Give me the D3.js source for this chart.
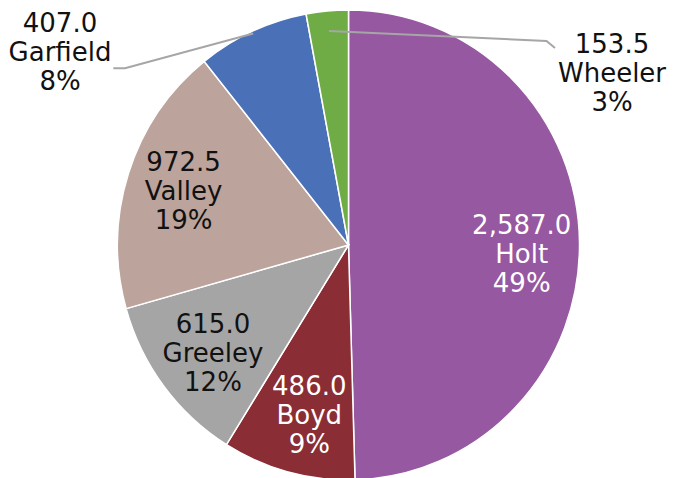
<!DOCTYPE html>
<html><head><meta charset="utf-8">
<script src="https://cdn.jsdelivr.net/npm/d3@7"></script>
<style>html,body{margin:0;padding:0;background:#fff;} svg{display:block;}</style>
</head><body>
<svg id="chart" width="677" height="478"></svg>
<script>
const categories = ["Holt", "Boyd", "Greeley", "Valley", "Garfield", "Wheeler"];
const values = [2587.0, 486.0, 615.0, 972.5, 407.0, 153.5];
const percentLabels = ["49%", "9%", "12%", "19%", "8%", "3%"];
const colors = ["#9658A0", "#8A2D35", "#A5A5A5", "#BCA39B", "#4A71B8", "#6FAC46"];
const textColors = ["#ffffff", "#ffffff", "#111111", "#111111", "#111111", "#111111"];

const cx = 348.5, cy = 245, R = 231, sy = 235 / 231;
const svg = d3.select("#chart");
const gPie = svg.append("g").attr("transform", `translate(${cx},${cy}) scale(1,${sy})`);
const g = svg.append("g").attr("transform", `translate(${cx},${cy})`);

const data = categories.map((c, i) => ({name: c, value: values[i], pct: percentLabels[i], color: colors[i], tc: textColors[i]}));
const pie = d3.pie().sort(null).value(d => d.value);
const arcs = pie(data);
const arc = d3.arc().innerRadius(0).outerRadius(R);

gPie.selectAll("path.slice").data(arcs).enter().append("path")
  .attr("class", "slice")
  .attr("d", arc)
  .attr("fill", d => d.data.color)
  .attr("stroke", "#fff").attr("stroke-width", 1.5)
  .attr("vector-effect", "non-scaling-stroke");

const fmt = d3.format(",.1f");
const fontFamily = "'Century Gothic','URW Gothic','DejaVu Sans',sans-serif";
const fs = 26, lh = 29;

// inner labels: placed at 0.75R centroid with small nudges
const innerNudge = {Holt: [0, 11], Boyd: [6, 0], Greeley: [3, 2], Valley: [0, 0]};
// outer labels: leader start factor, elbow/end points, text center
const outer = {
  Garfield: {r: 0.99, elbow: [-223.5, -176.7], end: [-235.2, -176.7], text: [-288.5, -193]},
  Wheeler: {r: 0.915, elbow: [198, -204], end: [206.5, -197], text: [263.5, -172.5]}
};

function drawLabel(x, y, d) {
  const t = g.append("text")
    .attr("text-anchor", "middle")
    .attr("font-family", fontFamily)
    .attr("font-size", fs)
    .attr("fill", d.data.tc);
  [fmt(d.data.value), d.data.name, d.data.pct].forEach((s, i) => {
    t.append("tspan").attr("x", x).attr("y", y + (i - 1) * lh).attr("dy", "0.35em").text(s);
  });
}

arcs.forEach(d => {
  const name = d.data.name;
  const mid = (d.startAngle + d.endAngle) / 2;
  if (outer[name]) {
    const o = outer[name];
    const r0 = R * o.r;
    const px = r0 * Math.sin(mid), py = -r0 * Math.cos(mid) * sy;
    g.append("polyline")
      .attr("points", [[px, py], o.elbow, o.end].map(p => p.join(",")).join(" "))
      .attr("fill", "none").attr("stroke", "#A6A6A6").attr("stroke-width", 2);
    drawLabel(o.text[0], o.text[1], d);
  } else {
    const r = R * 0.75;
    const la = d3.arc().innerRadius(r).outerRadius(r);
    const [x, y] = la.centroid(d);
    const n = innerNudge[name];
    drawLabel(x + n[0], y * sy + n[1], d);
  }
});
</script>
</body></html>
